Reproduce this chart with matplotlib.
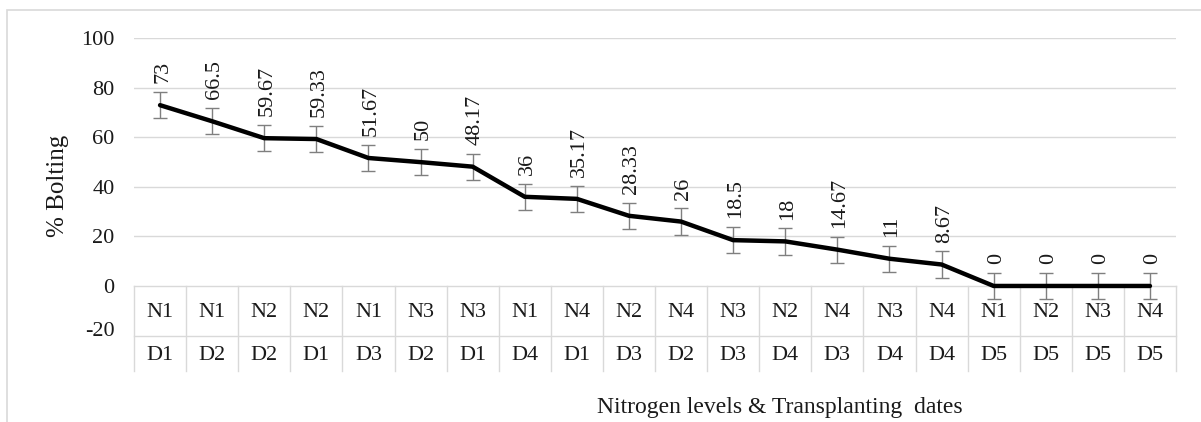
import numpy as np
import matplotlib.pyplot as plt
from matplotlib.patches import Rectangle
from matplotlib.transforms import ScaledTranslation

plt.rcParams['font.family'] = ['Liberation Serif', 'DejaVu Serif']

# data
n_levels = ["N1", "N1", "N2", "N2", "N1", "N3", "N3", "N1", "N4", "N2",
            "N4", "N3", "N2", "N4", "N3", "N4", "N1", "N2", "N3", "N4"]
t_dates = ["D1", "D2", "D2", "D1", "D3", "D2", "D1", "D4", "D1", "D3",
           "D2", "D3", "D4", "D3", "D4", "D4", "D5", "D5", "D5", "D5"]
bolting = [73, 66.5, 59.67, 59.33, 51.67, 50, 48.17, 36, 35.17, 28.33,
           26, 18.5, 18, 14.67, 11, 8.67, 0, 0, 0, 0]
errors = [5.3, 5.3, 5.3, 5.3, 5.3, 5.3, 5.3, 5.3, 5.3, 5.3,
          5.3, 5.3, 5.3, 5.3, 5.3, 5.3, 5.3, 5.3, 5.3, 5.3]
yticks = [-20, 0, 20, 40, 60, 80, 100]

W, H = 1201, 422
fig = plt.figure(figsize=(W / 100, H / 100), dpi=100)
txt_c = '#1a1a1a'

# outer chart border (runs off right and bottom edges)
fig.patches.append(Rectangle((7 / W, -0.1), 1.2, 1.1 - 10 / H,
                             transform=fig.transFigure, fill=False,
                             edgecolor='#d9d9d9', lw=1.2))

ax = fig.add_axes([134 / W, 1 - 335.5 / H, (1176 - 134) / W, (335.5 - 38.3) / H])
x = np.arange(len(bolting))
n = len(bolting)

ax.set_xlim(-0.5, n - 0.5)
ax.set_ylim(-20, 100)
for s in ax.spines.values():
    s.set_visible(False)

# gridlines
for g in [20, 40, 60, 80, 100]:
    ax.axhline(g, color='#d9d9d9', lw=1, zorder=0)

# category table below the axis
grid_c = '#d9d9d9'
bottom = -34.3
ax.plot([-0.5, n - 0.5], [0, 0], color=grid_c, lw=1, clip_on=False, zorder=0)
ax.plot([-0.5, n - 0.5], [-20, -20], color=grid_c, lw=1, clip_on=False, zorder=0)
for b in np.arange(n + 1) - 0.5:
    ax.plot([b, b], [0, bottom], color=grid_c, lw=1, clip_on=False, zorder=0)
for i in range(n):
    ax.text(x[i], -10.8, n_levels[i], ha='center', va='center', fontsize=16,
            color=txt_c, clip_on=False)
    ax.text(x[i], -28.0, t_dates[i], ha='center', va='center', fontsize=16,
            color=txt_c, clip_on=False)

ax.errorbar(x, bolting, yerr=errors, fmt='none', ecolor='#7f7f7f',
            elinewidth=1, capsize=5, capthick=1, zorder=2)
ax.plot(x, bolting, color='black', lw=3.2, solid_capstyle='round',
        solid_joinstyle='round', zorder=3)

for xi, v in zip(x, bolting):
    ax.text(xi + 0.05, v + 8.8, f"{v:g}", rotation=90, ha='center', va='bottom',
            fontsize=16, color=txt_c)

ax.set_xticks([])
ax.set_yticks(yticks)
ax.set_yticklabels([str(t) for t in yticks], fontsize=16, color=txt_c)
ax.tick_params(axis='y', length=0, pad=14)
# the -20 label sits a little higher in the original
lab = ax.get_yticklabels()[0]
lab.set_transform(lab.get_transform() + ScaledTranslation(0, 7 / 100, fig.dpi_scale_trans))

fig.text(58 / W, 1 - 186 / H, "% Bolting", rotation=90, ha='center', va='center',
         fontsize=18, color=txt_c)
fig.text(780 / W, 1 - 407 / H, "Nitrogen levels & Transplanting  dates",
         ha='center', va='center', fontsize=17, color=txt_c)

fig.savefig("out.png", dpi=100)
